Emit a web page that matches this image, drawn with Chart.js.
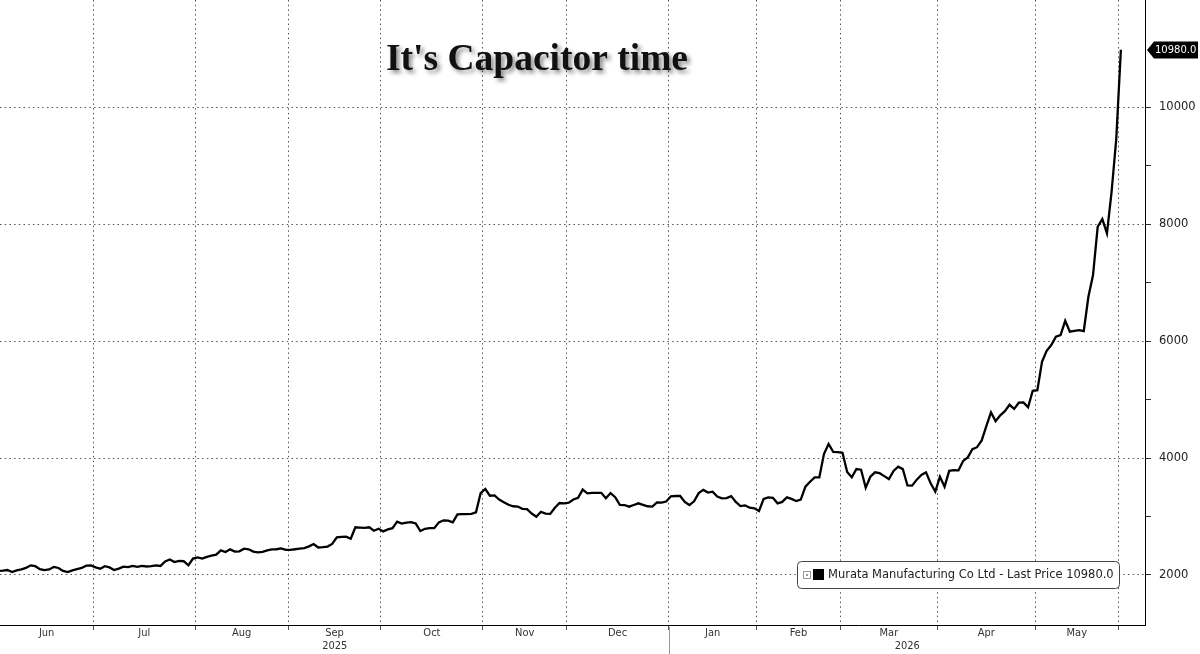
<!DOCTYPE html>
<html>
<head>
<meta charset="utf-8">
<script src="https://cdn.jsdelivr.net/npm/chart.js@4"></script>
<style>
html, body { margin: 0; padding: 0; background: #fff; }
#caixa { width: 1200px; height: 654px; position: relative; }
</style>
</head>
<body>
<div id="caixa"><canvas id="grafico"></canvas></div>
<script>
// dados (pregões da bolsa de Tóquio)
const titulo = "It's Capacitor time";
const serie_nome = "Murata Manufacturing Co Ltd - Last Price";
const ultimo_preco = 10980.0;
const meses = ["Jun", "Jul", "Aug", "Sep", "Oct", "Nov", "Dec", "Jan", "Feb", "Mar", "Apr", "May"];
const pregoes_mes = [21, 22, 20, 20, 22, 18, 22, 19, 18, 21, 21, 18];
const anos = ["2025", "2026"];
const mes_virada = 7; // Jan
const ticks_y = [2000, 3000, 4000, 5000, 6000, 7000, 8000, 9000, 10000];
const precos = [
    // Jun 2025
    2068, 2075, 2085, 2051, 2080, 2097, 2120, 2165, 2150, 2100, 2085, 2095, 2137, 2120, 2070, 2051, 2080, 2100, 2120, 2160, 2165,
    // Jul
    2130, 2108, 2150, 2130, 2085, 2110, 2142, 2135, 2155, 2138, 2155, 2145, 2150, 2165, 2155, 2230, 2265, 2220, 2240, 2235, 2165, 2280,
    // Aug
    2300, 2280, 2310, 2330, 2347, 2420, 2393, 2438, 2400, 2405, 2450, 2440, 2400, 2388, 2395, 2420, 2438, 2440, 2456, 2430,
    // Sep
    2430, 2440, 2450, 2460, 2490, 2530, 2470, 2475, 2485, 2530, 2644, 2650, 2656, 2620, 2815, 2810, 2805, 2815, 2757, 2790,
    // Oct
    2745, 2780, 2800, 2911, 2880, 2895, 2905, 2880, 2750, 2790, 2800, 2800, 2900, 2935, 2930, 2900, 3037, 3040, 3042, 3045, 3071, 3400,
    // Nov
    3470, 3355, 3360, 3290, 3245, 3200, 3175, 3170, 3130, 3125, 3050, 2996, 3080, 3050, 3045, 3150, 3230, 3225,
    // Dec
    3236, 3290, 3320, 3460, 3396, 3405, 3405, 3405, 3311, 3400, 3330, 3200, 3196, 3168, 3196, 3225, 3200, 3175, 3168, 3240, 3236, 3255,
    // Jan 2026
    3345, 3350, 3350, 3250, 3196, 3260, 3400, 3455, 3410, 3425, 3340, 3311, 3315, 3349, 3250, 3179, 3190, 3150, 3139,
    // Feb
    3094, 3300, 3327, 3320, 3225, 3250, 3327, 3300, 3265, 3290, 3509, 3595, 3669, 3669, 4068, 4239, 4105, 4100,
    // Mar
    4090, 3760, 3669, 3811, 3800, 3492, 3680, 3755, 3740, 3690, 3640, 3780, 3851, 3810, 3530, 3527, 3630, 3710, 3755, 3567, 3424,
    // Apr
    3680, 3510, 3780, 3794, 3790, 3950, 4011, 4150, 4185, 4300, 4546, 4780, 4630, 4730, 4800, 4910, 4840, 4945, 4950, 4866, 5150,
    // May
    5160, 5646, 5833, 5931, 6073, 6102, 6346, 6160, 6175, 6187, 6170, 6756, 7127, 7953, 8084, 7840, 8552, 9450,
    // Jun 1
    10980
];

const X_MIN = 0.4, X_MAX = 247.2;
const Y_MIN = 1145, Y_MAX = 11830;
const fonte_eixo_x = "'Liberation Sans Narrow', 'DejaVu Sans Condensed', 'Liberation Sans', sans-serif";
const fonte_ui = "'DejaVu Sans', Verdana, sans-serif";

// fronteiras dos meses e centros dos rotulos
var fronteiras = [];
var centros = [];
var acc = 0;
pregoes_mes.forEach(function (d, k) {
    var ini = acc - 0.5, fim = acc + d - 0.5;
    if (k > 0) fronteiras.push(ini);
    centros.push({ v: (Math.max(ini, X_MIN) + fim) / 2, nome: meses[k] });
    acc += d;
});
fronteiras.push(acc - 0.5);
var virada = fronteiras[mes_virada - 1];

function ajusta_fonte(ctx, texto, largura, base) {
    ctx.font = "20px " + base;
    var w = ctx.measureText(texto).width;
    return 20 * largura / w;
}

const extras = {
    id: 'extras',
    afterDraw: function (chart) {
        const ctx = chart.ctx;
        const sx = chart.scales.x, sy = chart.scales.y;
        const area = chart.chartArea;

        // anos e separador
        ctx.save();
        ctx.strokeStyle = '#999';
        ctx.lineWidth = 1;
        var xv = Math.round(sx.getPixelForValue(virada)) + 0.5;
        ctx.beginPath(); ctx.moveTo(xv, area.bottom + 2); ctx.lineTo(xv, 654); ctx.stroke();
        ctx.fillStyle = '#333';
        ctx.font = "11px " + fonte_eixo_x;
        ctx.textAlign = 'center';
        ctx.textBaseline = 'middle';
        ctx.fillText(anos[0], (area.left + xv) / 2, 646);
        ctx.fillText(anos[1], (xv + area.right) / 2, 646);
        ctx.restore();

        // titulo
        ctx.save();
        var tam = ajusta_fonte(ctx, titulo, 302, "'Liberation Serif', 'DejaVu Serif', serif");
        ctx.font = "bold " + tam.toFixed(1) + "px 'Liberation Serif', 'DejaVu Serif', serif";
        var w = ctx.measureText(titulo).width;
        if (w > 302) { tam = tam * 302 / w; ctx.font = "bold " + tam.toFixed(1) + "px 'Liberation Serif', 'DejaVu Serif', serif"; }
        ctx.textAlign = 'center';
        ctx.textBaseline = 'alphabetic';
        ctx.shadowColor = 'rgba(0,0,0,0.45)';
        ctx.shadowBlur = 4;
        ctx.shadowOffsetX = 3;
        ctx.shadowOffsetY = 3;
        ctx.fillStyle = '#111';
        ctx.fillText(titulo, 537, 70);
        ctx.restore();

        // legenda
        ctx.save();
        var lx = 797.5, ly = 561.5, lw = 322, lh = 27;
        ctx.beginPath();
        ctx.roundRect(lx, ly, lw, lh, 4);
        ctx.fillStyle = '#fff';
        ctx.fill();
        ctx.strokeStyle = '#444';
        ctx.lineWidth = 1;
        ctx.stroke();
        ctx.strokeStyle = '#999';
        ctx.strokeRect(803.5, 571.5, 7, 7);
        ctx.fillStyle = '#999';
        ctx.fillRect(806, 574, 2, 2);
        ctx.fillStyle = '#000';
        ctx.fillRect(813, 569, 11, 11);
        var texto = serie_nome + " " + ultimo_preco.toFixed(1);
        var tl = ajusta_fonte(ctx, texto, 286, fonte_ui);
        ctx.font = tl.toFixed(2) + "px " + fonte_ui;
        ctx.fillStyle = '#222';
        ctx.textBaseline = 'middle';
        ctx.fillText(texto, 828, 575.5);
        ctx.restore();

        // etiqueta do ultimo preco
        ctx.save();
        var yp = Math.round(sy.getPixelForValue(ultimo_preco));
        ctx.beginPath();
        ctx.moveTo(1147, yp);
        ctx.lineTo(1154, yp - 8.5);
        ctx.lineTo(1198, yp - 8.5);
        ctx.lineTo(1198, yp + 8.5);
        ctx.lineTo(1154, yp + 8.5);
        ctx.closePath();
        ctx.fillStyle = '#000';
        ctx.fill();
        ctx.fillStyle = '#fff';
        ctx.font = "10px " + fonte_ui;
        ctx.textBaseline = 'middle';
        ctx.fillText(ultimo_preco.toFixed(1), 1155, yp + 0.5);
        ctx.restore();
    }
};

window.onload = function () {
    const ctx = document.getElementById('grafico').getContext('2d');
    const pontos = precos.map(function (v, i) { return { x: i, y: v }; });

    new Chart(ctx, {
        type: 'line',
        data: {
            datasets: [{
                label: serie_nome,
                data: pontos,
                borderColor: '#000',
                borderWidth: 2.3,
                pointRadius: 0,
                tension: 0,
                fill: false
            }]
        },
        options: {
            responsive: true,
            maintainAspectRatio: false,
            animation: false,
            devicePixelRatio: 1,
            layout: { padding: 0 },
            plugins: { legend: { display: false }, tooltip: { enabled: false } },
            scales: {
                x: {
                    type: 'linear',
                    min: X_MIN,
                    max: X_MAX,
                    afterBuildTicks: function (s) {
                        var t = fronteiras.map(function (v) { return { value: v }; })
                            .concat(centros.map(function (c) { return { value: c.v }; }));
                        t.sort(function (a, b) { return a.value - b.value; });
                        s.ticks = t;
                    },
                    afterFit: function (s) {
                        s.height = 29;
                        s.paddingLeft = 0; s.paddingRight = 0;
                    },
                    ticks: {
                        autoSkip: false,
                        maxRotation: 0,
                        padding: -3,
                        color: '#333',
                        font: { family: fonte_eixo_x, size: 11 },
                        callback: function (v) {
                            for (var k = 0; k < centros.length; k++) {
                                if (Math.abs(centros[k].v - v) < 1e-6) return centros[k].nome;
                            }
                            return '';
                        }
                    },
                    grid: {
                        color: function (c) {
                            return (c.tick && fronteiras.indexOf(c.tick.value) >= 0) ? '#555' : 'rgba(0,0,0,0)';
                        },
                        tickColor: function (c) {
                            return (c.tick && fronteiras.indexOf(c.tick.value) >= 0) ? '#555' : 'rgba(0,0,0,0)';
                        },
                        tickLength: 5,
                        lineWidth: 1
                    },
                    border: { display: true, color: '#000', width: 1, dash: [1.5, 3.2] }
                },
                y: {
                    position: 'right',
                    min: Y_MIN,
                    max: Y_MAX,
                    afterBuildTicks: function (s) {
                        s.ticks = ticks_y.map(function (v) { return { value: v }; });
                    },
                    afterFit: function (s) {
                        s.width = 55;
                        s.paddingTop = 0; s.paddingBottom = 0;
                    },
                    ticks: {
                        padding: 8,
                        color: '#222',
                        font: { family: fonte_ui, size: 11.5 },
                        callback: function (v) { return v % 2000 === 0 ? String(v) : ''; }
                    },
                    grid: {
                        color: function (c) {
                            return (c.tick && c.tick.value % 2000 === 0) ? '#555' : 'rgba(0,0,0,0)';
                        },
                        tickColor: '#333',
                        tickLength: 6,
                        lineWidth: 1
                    },
                    border: { display: true, color: '#000', width: 1, dash: [1.5, 3.2] }
                }
            }
        },
        plugins: [extras]
    });
};
</script>
</body>
</html>
